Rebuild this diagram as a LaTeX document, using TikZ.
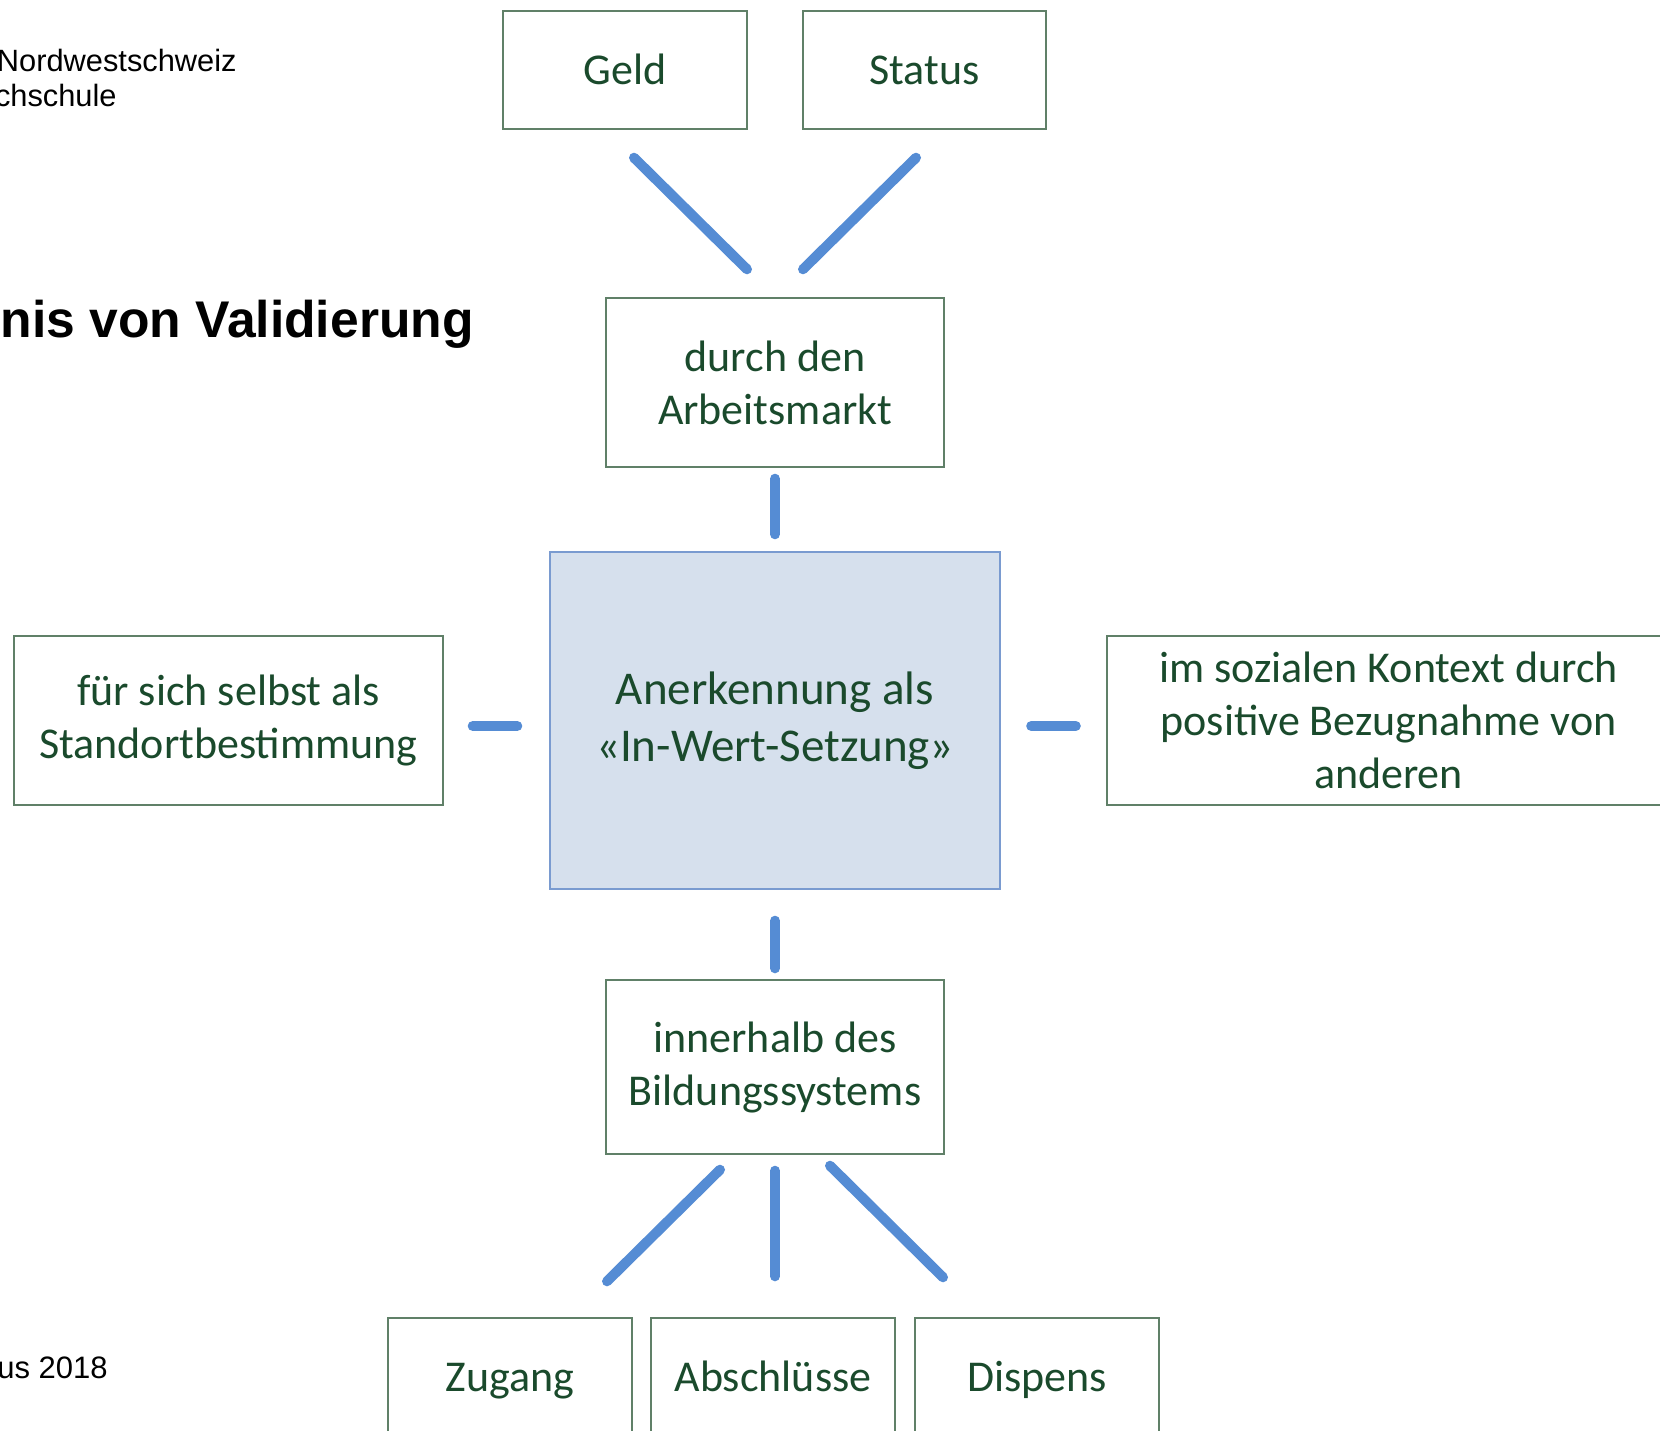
\documentclass[tikz,border=0pt]{standalone}
\usepackage{fontspec}
\setmainfont{Carlito}
\newfontfamily\headfont{Liberation Sans}
\usepackage{tikz}
\definecolor{txtgreen}{RGB}{26,74,44}
\definecolor{boxline}{RGB}{96,128,104}
\definecolor{linkblue}{RGB}{85,140,212}
\definecolor{corefill}{RGB}{214,224,237}
\definecolor{coreline}{RGB}{122,155,208}
\tikzstyle{box}=[draw=boxline, line width=0.7pt, inner sep=0pt, align=center, text=txtgreen, font=\fontsize{22}{26.5}\selectfont]
\tikzstyle{smallbox}=[box, minimum width=122pt, minimum height=59pt, text height=19pt, text depth=5pt]
\tikzstyle{corebox}=[box, draw=coreline, fill=corefill, font=\fontsize{23.5}{28.5}\selectfont]
\tikzstyle{link}=[draw=linkblue, line width=5pt, line cap=round]
\tikzstyle{head}=[anchor=base east, inner sep=0pt, text=black]

\begin{document}
\begin{tikzpicture}[x=0.5pt, y=-0.5pt]
\useasboundingbox (0,0) rectangle (1660,1430);
\clip (0,0) rectangle (1660,1430);
% header texts
\node[head, font=\headfont\fontsize{15.4}{17}\selectfont] (hsa) at (237,71) {Nordwestschweiz};
\node[head, font=\headfont\fontsize{15.4}{17}\selectfont] (hsb) at (117,106) {chschule};
\node[head, font=\headfont\bfseries\fontsize{25.8}{30}\selectfont] (title) at (474,337) {nis von Validierung};
\node[head, font=\headfont\fontsize{15.5}{17}\selectfont] (year) at (108,1378) {us 2018};
% boxes
\node[smallbox, minimum width=122pt] (geld) at (625,70) {Geld};
\node[smallbox, minimum width=121.5pt] (status) at (924.5,70) {Status};
\node[box, minimum width=169pt, minimum height=84.5pt] (markt) at (775,382.5) {durch den\\Arbeitsmarkt};
\node[corebox, minimum width=225pt, minimum height=168.5pt] (core) at (775,720.5) {Anerkennung als\\«In-Wert-Setzung»};
\node[box, minimum width=214.5pt, minimum height=84.5pt] (selbst) at (228.5,720.5) {für sich selbst als\\Standortbestimmung};
\node[box, minimum width=281.5pt, minimum height=84.5pt] (sozial) at (1388.5,720.5) {im sozialen Kontext durch\\positive Bezugnahme von\\anderen};
\node[box, minimum width=169pt, minimum height=87pt] (bildung) at (775,1067) {innerhalb des\\Bildungssystems};
\node[smallbox] (zugang) at (510,1377) {Zugang};
\node[smallbox] (abschl) at (773,1377) {Abschlüsse};
\node[smallbox] (dispens) at (1037,1377) {Dispens};
% connectors
\draw[link] ([shift={(9,28)}]geld.south) -- ([shift={(-28,-28)}]markt.north);
\draw[link] ([shift={(-8.5,28)}]status.south) -- ([shift={(28,-28)}]markt.north);
\draw[link] ([shift={(0,11)}]markt.south) -- ([shift={(0,-17)}]core.north);
\draw[link] ([shift={(29,5.5)}]selbst.east) -- ([shift={(-32,5.5)}]core.west);
\draw[link] ([shift={(30.5,5.5)}]core.east) -- ([shift={(-30.5,5.5)}]sozial.west);
\draw[link] ([shift={(0,31)}]core.south) -- ([shift={(0,-11)}]bildung.north);
\draw[link] ([shift={(-55,15)}]bildung.south) -- ([shift={(97,-36)}]zugang.north);
\draw[link] ([shift={(0,16)}]bildung.south) -- ([shift={(2,-41)}]abschl.north);
\draw[link] ([shift={(55,11)}]bildung.south) -- ([shift={(-94,-40)}]dispens.north);
\end{tikzpicture}
\end{document}
